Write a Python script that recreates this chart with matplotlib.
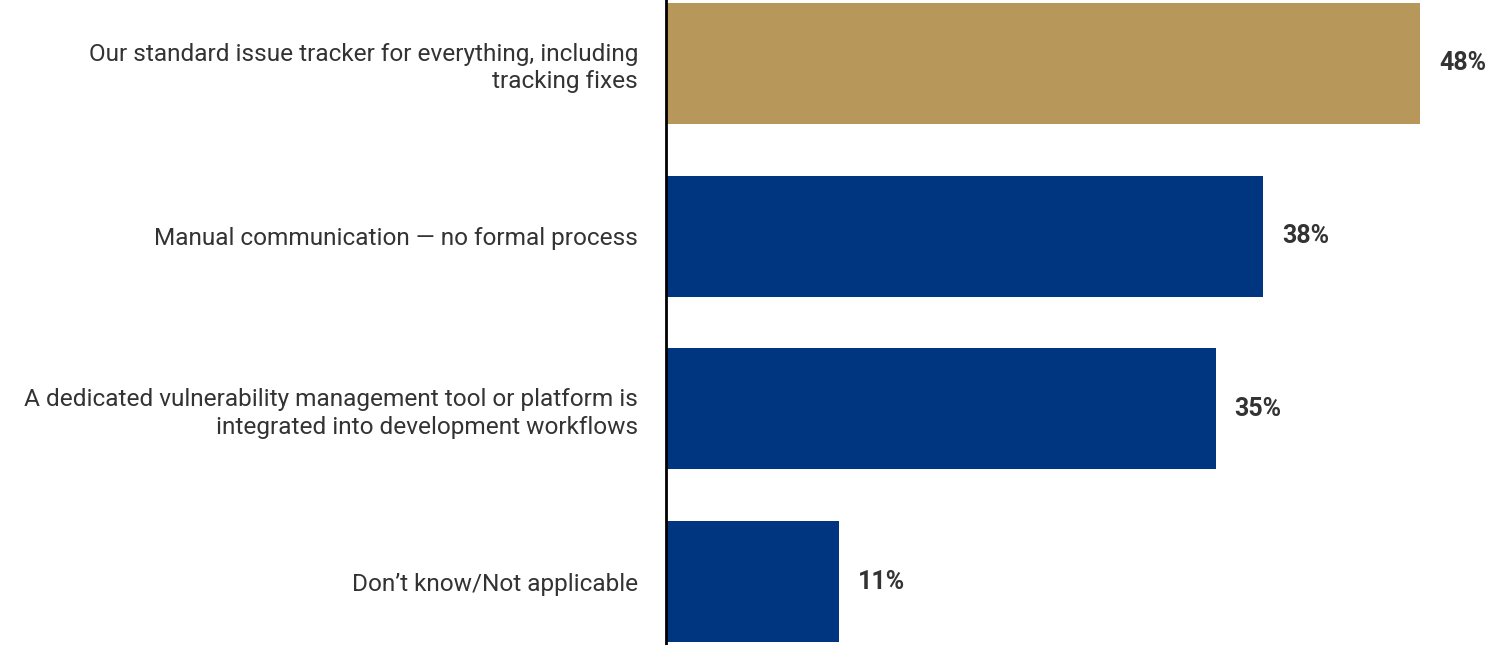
import matplotlib.pyplot as plt

categories = ["Our standard issue tracker for everything, including\ntracking fixes",
              "Manual communication \u2014 no formal process",
              "A dedicated vulnerability management tool or platform is\nintegrated into development workflows",
              "Don\u2019t know/Not applicable"]
values = [48, 38, 35, 11]
colors = ["#B8985A", "#003580", "#003580", "#003580"]

plt.rcParams['font.family'] = ['Roboto', 'DejaVu Sans']

fig = plt.figure(figsize=(14.86, 6.45), dpi=100)
ax = fig.add_axes([666/1486, 0, 820/1486, 1])

ypos = range(len(values))
ax.barh(ypos, values, height=0.7, color=colors)
ax.set_xlim(0, 48*820/754)
ax.set_ylim(3.367, -0.367)

for y, v in zip(ypos, values):
    ax.text(v + 1.2, y, f"{v}%", va='center', ha='left', fontsize=18,
            fontweight='bold', color='#333333')

ax.set_yticks(list(ypos))
ax.set_yticklabels(categories, fontsize=17.6, color='#333333',
                   linespacing=1.25)
ax.tick_params(axis='y', length=0, pad=20)
ax.set_xticks([])
for s in ['top', 'right', 'bottom']:
    ax.spines[s].set_visible(False)
ax.spines['left'].set_linewidth(2)
ax.spines['left'].set_color('black')

fig.savefig('out.png', dpi=100)
